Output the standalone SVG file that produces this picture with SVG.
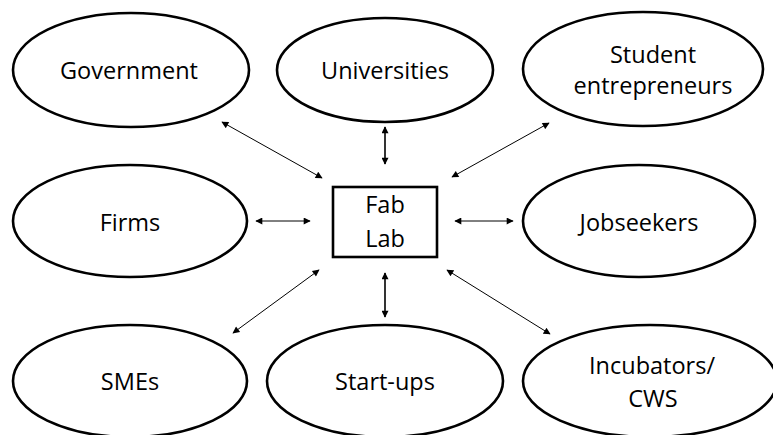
<svg xmlns="http://www.w3.org/2000/svg" width="773" height="435" viewBox="0 0 773 435">
<defs>
<style>
.node{fill:#fff;stroke:#000;stroke-width:2.6}
.t{font-family:"Open Sans","Noto Sans","Liberation Sans",sans-serif;font-size:23.5px;fill:#000;text-anchor:middle}
.c{stroke:#000;stroke-width:1;fill:none;marker-start:url(#ah);marker-end:url(#ah)}
.cv{stroke-width:1.6}
</style>
<marker id="ah" viewBox="0 0 10 10" refX="9" refY="5" markerWidth="9" markerHeight="7" markerUnits="userSpaceOnUse" orient="auto-start-reverse">
<path d="M0,0 L10,5 L0,10 z" fill="#000"/>
</marker>
</defs>
<rect width="773" height="435" fill="#fff"/>
<g id="connectors">
<line class="c" x1="222" y1="122" x2="322" y2="178"/>
<line class="c cv" x1="385" y1="127" x2="385" y2="164"/>
<line class="c" x1="549" y1="123" x2="452" y2="177"/>
<line class="c" x1="256" y1="221" x2="310" y2="221"/>
<line class="c" x1="455" y1="221" x2="513" y2="221"/>
<line class="c" x1="319" y1="270" x2="233" y2="333"/>
<line class="c cv" x1="385" y1="273" x2="385" y2="317"/>
<line class="c" x1="447" y1="270" x2="550" y2="334"/>
</g>
<g id="government"><ellipse class="node" cx="131" cy="70" rx="118" ry="57"/><text class="t" x="129" y="79">Government</text></g>
<g id="universities"><ellipse class="node" cx="385" cy="70" rx="108" ry="52"/><text class="t" x="385" y="79">Universities</text></g>
<g id="student-entrepreneurs"><ellipse class="node" cx="643" cy="69" rx="120" ry="57"/><text class="t" x="653" y="63">Student</text><text class="t" x="653" y="94">entrepreneurs</text></g>
<g id="firms"><ellipse class="node" cx="130" cy="221" rx="117" ry="56"/><text class="t" x="130" y="231">Firms</text></g>
<g id="fablab"><rect class="node" x="333" y="187" width="104" height="70"/><text class="t" x="385" y="213">Fab</text><text class="t" x="385" y="247">Lab</text></g>
<g id="jobseekers"><ellipse class="node" cx="639" cy="221" rx="116" ry="56"/><text class="t" x="639" y="231">Jobseekers</text></g>
<g id="smes"><ellipse class="node" cx="130" cy="381" rx="117" ry="56"/><text class="t" x="130" y="390">SMEs</text></g>
<g id="startups"><ellipse class="node" cx="385" cy="381" rx="118" ry="56"/><text class="t" x="385" y="390">Start-ups</text></g>
<g id="incubators"><ellipse class="node" cx="650" cy="381" rx="127" ry="56"/><text class="t" x="652" y="374">Incubators/</text><text class="t" x="653" y="407">CWS</text></g>
</svg>
